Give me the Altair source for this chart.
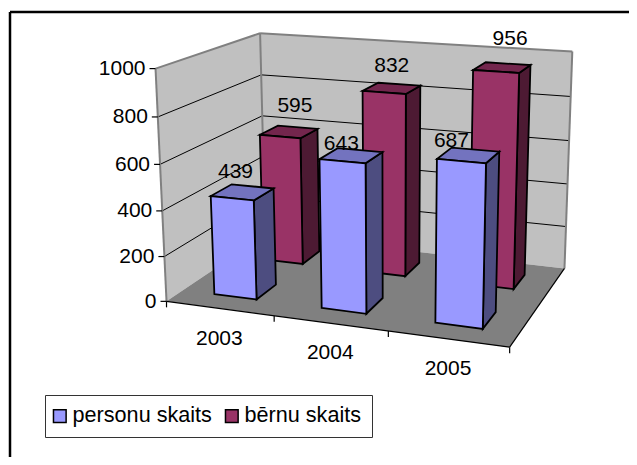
import numpy as np
import altair as alt

YEARS = ["2003", "2004", "2005"]
PERSONS = [439, 643, 687]
CHILDREN = [595, 832, 956]
VALUE_TICKS = [0, 200, 400, 600, 800, 1000]
SERIES = ["personu skaits", "bērnu skaits"]
FACE_FRONT = ["#9999FF", "#993366"]
FACE_TOP = ["#7373BF", "#73264D"]
FACE_SIDE = ["#4D4D80", "#4D1A33"]
FONT = "Liberation Sans"
FS = 21
W, H = 621, 449
MARGIN = 8
PERSON_NUDGE = [(-7,-20), (-10,-12), (-17,-14)]
CHILD_NUDGE = [(6,-26), (0,-22), (8,-29)]

# camera: (u along categories, w depth, v value/1000) -> screen, fitted to the box corners
cube = [(0,0,0),(1,0,0),(1,1,0),(0,1,0),(0,0,1),(0,1,1),(1,1,1),(0,0,.4),(1,1,.4),(0,1,.4)]
screen = [(166,301),(510,347),(564,268),(266,235),(156,69),(260,33),(572,51),(162,211),(568,185),(263,156)]
rows = []
for (a,b,c),(x,y) in zip(cube, screen):
    rows.append([a,b,c,1,0,0,0,0,-x*a,-x*b,-x*c,-x])
    rows.append([0,0,0,0,a,b,c,1,-y*a,-y*b,-y*c,-y])
P = np.linalg.svd(np.array(rows,float))[2][-1].reshape(3,4)

def proj(u, w, v):
    p = P @ np.array([u, w, v, 1.0])
    return [float(p[0]/p[2]) - MARGIN, float(p[1]/p[2]) - MARGIN]

def poly(pts, fill):
    ring = [proj(*q) for q in pts]
    return {"type":"Feature","properties":{"fill":fill},
            "geometry":{"type":"Polygon","coordinates":[ring+[ring[0]]]}}

def seg(a, b):
    return {"type":"Feature","properties":{},"geometry":{"type":"LineString","coordinates":[a,b]}}

ID = dict(type="identity", scale=1, translate=[0,0])

def fills(features, stroke=None, sw=0):
    kw = dict(stroke=stroke, strokeWidth=sw, strokeJoin="miter") if stroke else dict(strokeWidth=0)
    return alt.Chart(alt.Data(values=features)).mark_geoshape(**kw).encode(
        fill=alt.Fill("properties.fill:N", scale=None)).project(**ID)

def lines(features, color, sw):
    return alt.Chart(alt.Data(values=features)).mark_geoshape(
        filled=False, stroke=color, strokeWidth=sw).project(**ID)

walls = [poly([(0,0,0),(0,1,0),(0,1,1),(0,0,1)], "#C0C0C0"),
         poly([(0,1,0),(1,1,0),(1,1,1),(0,1,1)], "#C0C0C0")]
floor = [poly([(0,0,0),(1,0,0),(1,1,0),(0,1,0)], "#808080")]
grid = []
for t in VALUE_TICKS[1:-1]:
    v = t/1000
    grid += [seg(proj(0,0,v),proj(0,1,v)), seg(proj(0,1,v),proj(1,1,v))]
wall_edges = [seg(proj(0,0,1),proj(0,1,1)), seg(proj(0,1,1),proj(1,1,1)),
              seg(proj(1,1,1),proj(1,1,0)), seg(proj(0,1,1),proj(0,1,0)),
              seg(proj(0,0,1),proj(0,0,0))]

axis_lines = [seg(proj(0,0,0),proj(1,0,0)), seg(proj(1,0,0),proj(1,1,0))]
for t in VALUE_TICKS:
    p = proj(0,0,t/1000)
    axis_lines.append(seg([p[0]-6,p[1]],p))
for i in range(4):
    p = proj(i/3,0,0)
    axis_lines.append(seg(p,[p[0],p[1]+6]))

UW = 0.4/3
def bar(i, row, value):
    u0 = (i+0.3)/3; u1 = u0+UW
    w0 = 0.15+row*0.5; w1 = w0+0.2
    v = value/1000
    return [poly([(u1,w0,0),(u1,w1,0),(u1,w1,v),(u1,w0,v)], FACE_SIDE[row]),
            poly([(u0,w0,v),(u1,w0,v),(u1,w1,v),(u0,w1,v)], FACE_TOP[row]),
            poly([(u0,w0,0),(u1,w0,0),(u1,w0,v),(u0,w0,v)], FACE_FRONT[row])]

back, front = [], []
for i in range(3):
    back += bar(i,1,CHILDREN[i])
    front += bar(i,0,PERSONS[i])

texts = []
for t in VALUE_TICKS:
    p = proj(0,0,t/1000)
    texts.append({"px":p[0]-10,"py":p[1]+0.5,"t":str(t),"a":"right"})
for i,y in enumerate(YEARS):
    a = proj(i/3,0,0); b = proj((i+1)/3,0,0)
    texts.append({"px":(a[0]+b[0])/2-1,"py":(a[1]+b[1])/2+30,"t":y,"a":"center"})
right = [t for t in texts if t["a"]=="right"]
center = [t for t in texts if t["a"]=="center"]
for i in range(3):
    p = proj((i+0.5)/3,0.25,PERSONS[i]/1000)
    dx, dy = PERSON_NUDGE[i]
    center.append({"px":p[0]+dx,"py":p[1]+dy,"t":str(PERSONS[i]),"a":"center"})
    p = proj((i+0.5)/3,0.75,CHILDREN[i]/1000)
    dx, dy = CHILD_NUDGE[i]
    center.append({"px":p[0]+dx,"py":p[1]+dy,"t":str(CHILDREN[i]),"a":"center"})

xs = alt.X("px:Q", scale=alt.Scale(domain=[0,W],range=[0,W]), axis=None)
ys = alt.Y("py:Q", scale=alt.Scale(domain=[0,H],range=[0,H]), axis=None)
def text_layer(rows, align):
    return alt.Chart(alt.Data(values=rows)).mark_text(
        font=FONT, fontSize=FS, color="black", align=align, baseline="middle").encode(
        x=xs, y=ys, text="t:N")

legend_src = alt.Chart(alt.Data(values=[{"s":s,"px":0,"py":0} for s in SERIES])).mark_square(opacity=0, size=1).encode(
    x=xs, y=ys,
    color=alt.Color("s:N", scale=alt.Scale(domain=SERIES, range=FACE_FRONT),
        legend=alt.Legend(orient="none", legendX=37, legendY=387, direction="horizontal", columns=2,
            title=None, symbolType="square", symbolSize=160, symbolOpacity=1, symbolStrokeColor="black",
            symbolStrokeWidth=1.5, symbolOffset=-6, labelFont=FONT, labelFontSize=21.6, labelColor="black",
            fillColor="white", strokeColor="#333333", padding=10, columnPadding=10, labelOffset=2)))

frame = lines([seg([2,H+20],[2,4]), seg([2,4],[W+20,4])], "black", 2.5)

chart = alt.layer(
    fills(walls), fills(floor), lines(grid,"black",1), lines(wall_edges,"#808080",2),
    lines(axis_lines,"black",1.2),
    fills(back,"black",1.8), fills(front,"black",1.8),
    text_layer(right,"right"), text_layer(center,"center"),
    legend_src, frame
).properties(width=W, height=H, background="white", padding=0,
             autosize=alt.AutoSizeParams(type="none")).configure_view(stroke=None)

chart.save("out.html", embed_options={"renderer":"svg","actions":False})
